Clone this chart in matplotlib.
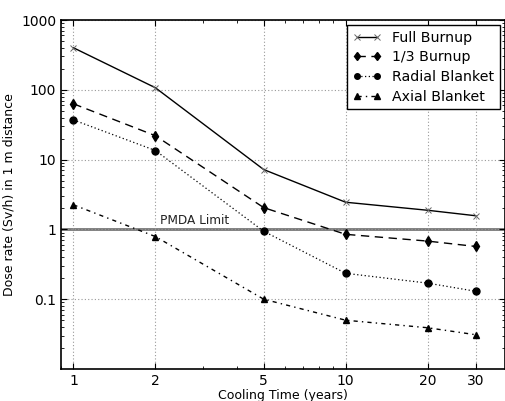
import matplotlib
matplotlib.use("Agg")
import matplotlib.pyplot as plt
from matplotlib.ticker import FixedLocator, FixedFormatter, LogLocator, NullFormatter

years = [1, 2, 5, 10, 20, 30]
full_burnup = [400, 107, 7.2, 2.45, 1.88, 1.57]
third_burnup = [63, 22, 2.05, 0.85, 0.68, 0.57]
radial_blanket = [37, 13.5, 0.94, 0.235, 0.17, 0.13]
axial_blanket = [2.25, 0.79, 0.10, 0.05, 0.039, 0.031]
pmda_limit = 1.0
xtick_labels = ["1", "2", "5", "10", "20", "30"]
ytick_vals = [0.1, 1, 10, 100, 1000]
ytick_labels = ["0.1", "1", "10", "100", "1000"]

fig = plt.figure(figsize=(5.05, 4.01), dpi=100)
ax = fig.add_axes([61/505, 32/401, 444/505, 349/401])

ax.axhline(pmda_limit, color="#777777", lw=2, zorder=1)
ax.text(2.08, 1.08, "PMDA Limit", fontsize=8.7, color="#222222", va="bottom", ha="left")

ax.plot(years, full_burnup, color="black", ls="-", lw=1, marker="x", ms=5,
        mec="#666666", mew=0.7, label="Full Burnup")
ax.plot(years, third_burnup, color="black", ls=(0, (6, 4)), lw=1, marker="d", ms=5.5,
        label="1/3 Burnup")
ax.plot(years, radial_blanket, color="black", ls=(0, (1, 2)), lw=0.9, marker="o", ms=5,
        label="Radial Blanket")
ax.plot(years, axial_blanket, color="black", ls=(0, (3, 3, 1, 3)), lw=1, marker="^", ms=5,
        label="Axial Blanket")

ax.set_xscale("log")
ax.set_yscale("log")
ax.set_xlim(0.9, 38.5)
ax.set_ylim(0.01, 1000)

ax.xaxis.set_major_locator(FixedLocator(years))
ax.xaxis.set_major_formatter(FixedFormatter(xtick_labels))
ax.xaxis.set_minor_locator(LogLocator(base=10, subs=range(2, 10)))
ax.xaxis.set_minor_formatter(NullFormatter())
ax.yaxis.set_major_locator(FixedLocator(ytick_vals))
ax.yaxis.set_major_formatter(FixedFormatter(ytick_labels))
ax.yaxis.set_minor_locator(LogLocator(base=10, subs=range(2, 10)))
ax.yaxis.set_minor_formatter(NullFormatter())

ax.tick_params(which="both", direction="in", top=True, right=True, labelsize=10)
ax.tick_params(which="major", length=4)
ax.tick_params(which="minor", length=2)
ax.grid(True, which="major", ls=(0, (1, 2)), color="#999999", lw=0.8)

for s in ax.spines.values():
    s.set_linewidth(1.2)

ax.set_xlabel("Cooling Time (years)", fontsize=9, labelpad=1)
ax.set_ylabel("Dose rate (Sv/h) in 1 m distance", fontsize=9)

leg = ax.legend(loc="upper right", fontsize=10.2, fancybox=False, framealpha=1,
                edgecolor="black", handlelength=2.0, borderpad=0.4, labelspacing=0.4,
                numpoints=2, borderaxespad=0.35, handletextpad=0.8, markerscale=0.8)
leg.get_frame().set_linewidth(1)

fig.savefig("out.png", dpi=100)
